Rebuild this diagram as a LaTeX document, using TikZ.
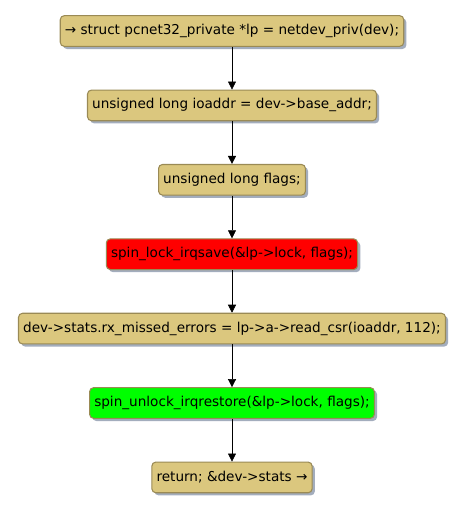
\documentclass[tikz,border=0pt]{standalone}
\usepackage{fontspec}
\setmainfont{DejaVu Sans}
\usetikzlibrary{arrows.meta,positioning,shadows}
\definecolor{gold}{HTML}{DBC77E}
\definecolor{goldline}{HTML}{9A8A55}
\definecolor{shade}{HTML}{8C98AC}
\definecolor{lockred}{HTML}{FF0000}
\definecolor{unlockgreen}{HTML}{00FF00}
\tikzset{action/.style={draw=goldline,line width=0.8pt,fill=gold,rounded corners=3pt,
  minimum height=23pt,inner xsep=3.5pt,font=\fontsize{10.2}{12}\selectfont,
  drop shadow={shadow xshift=2pt,shadow yshift=-2pt,fill=shade,opacity=0.8}},
  flow/.style={-{Triangle[length=6pt,width=6pt]},draw=black}}
\begin{document}
\begin{tikzpicture}[x=0.75pt,y=-0.75pt,node distance=32pt]
\useasboundingbox (0,0) rectangle (465,507);
\node[action] (priv) at (232,31) {→ struct pcnet32\_private *lp = netdev\_priv(dev);};
\node[action,below=of priv] (ioaddr) {unsigned long ioaddr = dev->base\_addr;};
\node[action,below=of ioaddr] (flags) {unsigned long flags;};
\node[action,fill=lockred,below=of flags] (lock) {spin\_lock\_irqsave(\&lp->lock, flags);};
\node[action,below=of lock] (csr) {dev->stats.rx\_missed\_errors = lp->a->read\_csr(ioaddr, 112);};
\node[action,fill=unlockgreen,below=of csr] (unlock) {spin\_unlock\_irqrestore(\&lp->lock, flags);};
\node[action,below=of unlock] (ret) {return; \&dev->stats →};
\draw[flow] (priv)--(ioaddr);\draw[flow] (ioaddr)--(flags);
\draw[flow] (flags)--(lock);\draw[flow] (lock)--(csr);
\draw[flow] (csr)--(unlock);\draw[flow] (unlock)--(ret);
\end{tikzpicture}
\end{document}
